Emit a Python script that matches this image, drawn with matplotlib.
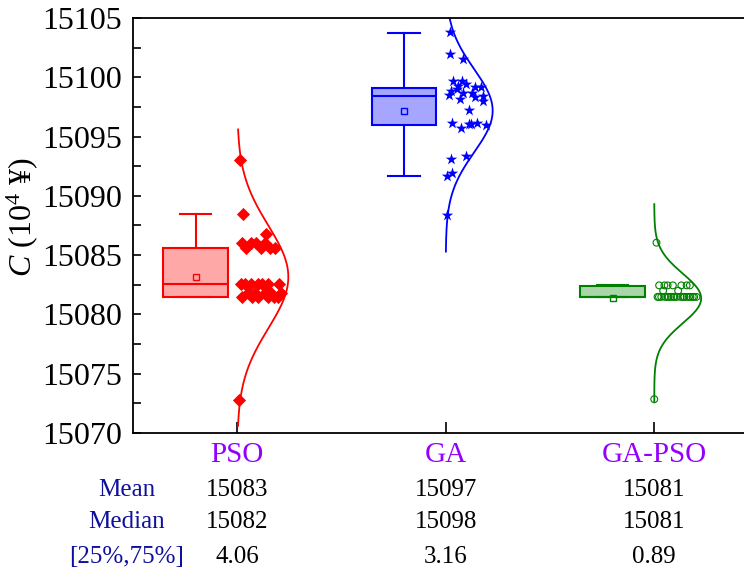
import matplotlib
matplotlib.use('Agg')
import matplotlib.pyplot as plt
from matplotlib.ticker import MultipleLocator
import numpy as np

plt.rcParams['font.family'] = ['Liberation Serif', 'DejaVu Serif']
plt.rcParams['mathtext.fontset'] = 'custom'
plt.rcParams['mathtext.rm'] = 'Liberation Serif'
plt.rcParams['mathtext.it'] = 'Liberation Serif:italic'

# data
groups = ['PSO', 'GA', 'GA-PSO']
pso = [15093.0, 15088.5, 15086.8,
       15086.0, 15086.0, 15086.0, 15086.0,
       15085.6, 15085.6, 15085.6, 15085.6,
       15082.55, 15082.55, 15082.55, 15082.55, 15082.55, 15082.55, 15082.55,
       15081.8, 15081.8, 15081.8, 15081.8, 15081.8,
       15081.5, 15081.5, 15081.5, 15081.5, 15081.5, 15081.5,
       15072.8]
ga = [15103.8, 15102.0, 15101.5, 15099.7, 15098.85, 15098.3, 15098.2,
      15099.15, 15099.45, 15099.65, 15099.15, 15098.7, 15098.5, 15098.65,
      15099.0, 15098.0, 15097.25, 15096.15, 15096.15, 15095.7, 15096.0,
      15096.05, 15093.1, 15093.4, 15091.95, 15091.7, 15088.4,
      15099.3, 15098.4, 15096.1]
gapso = [15086.05,
         15082.45, 15082.45, 15082.45, 15082.45, 15082.45, 15082.45, 15082.45,
         15082.0, 15082.0,
         15081.48, 15081.48, 15081.48, 15081.48, 15081.48, 15081.48, 15081.48,
         15081.48, 15081.48, 15081.48, 15081.48, 15081.48, 15081.48, 15081.48,
         15081.48, 15081.48, 15081.48, 15081.48, 15081.48,
         15072.85]

box_q1 = [15081.5, 15096.0, 15081.45]
box_med = [15082.55, 15098.42, 15081.45]
box_q3 = [15085.58, 15099.1, 15082.4]
box_lo = [15081.5, 15091.7, 15081.45]
box_hi = [15088.5, 15103.7, 15082.48]
box_mean = [15083.16, 15097.18, 15081.35]

curve_sd = [4.35, 3.5, 2.1]
curve_lo = [15070.6, 15085.3, 15072.6]
curve_hi = [15095.6, 15106.0, 15089.3]

table_mean = ['15083', '15097', '15081']
table_median = ['15082', '15098', '15081']
table_iqr = ['4.06', '3.16', '0.89']

edge = ['#FF0000', '#0000FF', '#008000']
fill = ['#FFA8A8', '#A6A6FF', '#A8D6A8']
markers = ['D', '*', 'o']
peak = [0.245, 0.225, 0.225]

fig = plt.figure(figsize=(7.44, 5.7), dpi=100)
ax = fig.add_axes([133/744, 137/570, 625.5/744, 415/570])

pos = np.arange(1, 4)
stats = []
for i in range(3):
    stats.append({'med': box_med[i], 'q1': box_q1[i], 'q3': box_q3[i],
                  'whislo': box_lo[i], 'whishi': box_hi[i],
                  'mean': box_mean[i], 'fliers': []})
bp = ax.bxp(stats, positions=pos - 0.2, widths=0.31, capwidths=0.15,
            patch_artist=True, showmeans=True, showfliers=False)
for i in range(3):
    bp['boxes'][i].set(facecolor=fill[i], edgecolor=edge[i], linewidth=1.5)
    for ln in bp['whiskers'][2*i:2*i+2] + bp['caps'][2*i:2*i+2]:
        ln.set(color=edge[i], linewidth=1.5)
    bp['medians'][i].set(color=edge[i], linewidth=1.5)
    bp['means'][i].set(marker='s', markerfacecolor='none', markeredgecolor=edge[i],
                       markersize=5, markeredgewidth=1)

for i, vals in enumerate([pso, ga, gapso]):
    v = np.asarray(vals)
    mu, sd = box_mean[i], curve_sd[i]
    # normal curve to the right of the category
    y = np.linspace(curve_lo[i], curve_hi[i], 400)
    ax.plot(pos[i] + peak[i]*np.exp(-0.5*((y - mu)/sd)**2), y, color=edge[i], lw=1.3)
    # spread the points inside the curve
    frac = (np.arange(1, len(v) + 1) * 0.618034) % 1
    xoff = peak[i]*np.exp(-0.5*((v - mu)/sd)**2) * (0.04 + 0.88*frac)
    if markers[i] == 'o':
        ax.scatter(pos[i] + xoff, v, s=24, marker='o', facecolors='none',
                   edgecolors=edge[i], linewidths=0.8, zorder=3)
    elif markers[i] == '*':
        ax.scatter(pos[i] + xoff, v, s=75, marker='*', color=edge[i], linewidths=0, zorder=3)
    else:
        ax.scatter(pos[i] + xoff, v, s=45, marker='D', color=edge[i], linewidths=0, zorder=3)

ax.set_xlim(0.5, 3.5)
ax.set_ylim(15070, 15105)
ax.set_xticks(pos)
ax.yaxis.set_major_locator(MultipleLocator(5))
ax.yaxis.set_minor_locator(MultipleLocator(2.5))
ax.tick_params(axis='y', which='both', direction='in', length=6, width=1.2,
               labelsize=23, pad=8)
ax.tick_params(axis='x', direction='in', length=8, width=1.2, labelbottom=False)
for sp in ax.spines.values():
    sp.set_linewidth(1.3)
ax.set_ylabel(r'$\mathit{C}$ (10$^4$ ¥)', fontsize=23)
ax.yaxis.set_label_coords(-0.148, 0.52)

# labels and summary table under the axes
tr = ax.get_xaxis_transform()
row_y = [-0.137, -0.2145, -0.299]
for i in range(3):
    ax.text(pos[i], -0.053, groups[i], transform=tr, ha='center', va='center',
            fontsize=21, color='#9400FF')
    for ry, col in zip(row_y, [table_mean, table_median, table_iqr]):
        ax.text(pos[i], ry, col[i], transform=tr, ha='center', va='center',
                fontsize=18, color='black')
for ry, name in zip(row_y, ['Mean', 'Median', '[25%,75%]']):
    ax.text(0.47, ry, name, transform=tr, ha='center', va='center',
            fontsize=18, color='#10109E')

fig.savefig('out.png', dpi=100)
